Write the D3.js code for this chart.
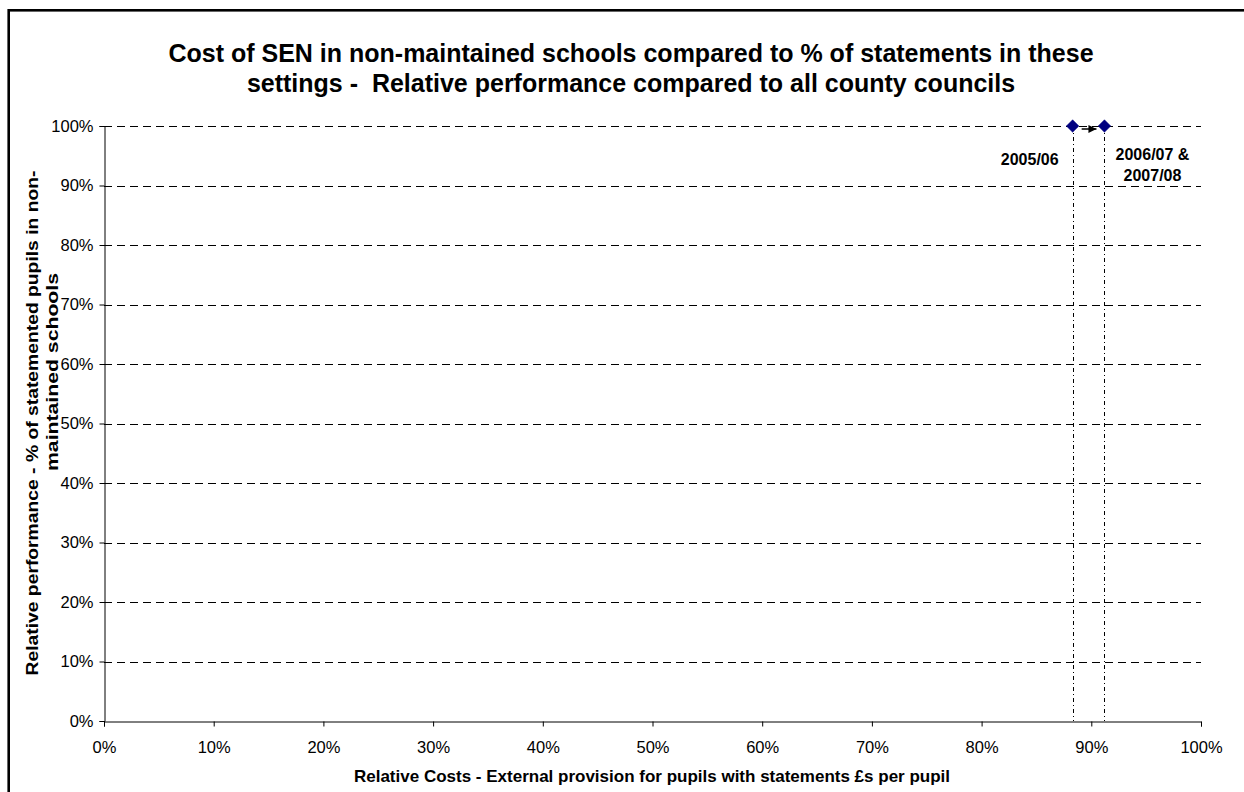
<!DOCTYPE html>
<html>
<head>
<meta charset="utf-8">
<script src="https://cdn.jsdelivr.net/npm/d3@7"></script>
<style>
  html, body { margin: 0; padding: 0; background: #fff; }
  svg text { font-family: Arial, "Liberation Sans", sans-serif; fill: #000; white-space: pre; }
</style>
</head>
<body>
<svg id="chart" width="1244" height="792"></svg>
<script>
// Relative cost (x) vs relative performance (y), by year
const years = ["2005/06", "2006/07 & 2007/08"];
const relCost = [0.883, 0.912];
const relPerf = [1.0, 1.0];
const tickValues = [0, 0.1, 0.2, 0.3, 0.4, 0.5, 0.6, 0.7, 0.8, 0.9, 1.0];
const titleLines = [
  "Cost of SEN in non-maintained schools compared to % of statements in these",
  "settings -  Relative performance compared to all county councils"
];
const xTitle = "Relative Costs - External provision for pupils with statements £s per pupil";
const yTitleLines = [
  "Relative performance - % of statemented pupils in non-",
  "maintained schools"
];
const pointLabels = [["2005/06"], ["2006/07 &", "2007/08"]];

const svg = d3.select("#chart");
const W = 1244, H = 792;
const margin = { left: 104, right: W - 1201, top: 126, bottom: H - 721 };

// outer chart frame
svg.append("rect")
  .attr("x", 8.7).attr("y", 10.3)
  .attr("width", 1300).attr("height", 820)
  .attr("fill", "none").attr("stroke", "#000").attr("stroke-width", 2.6);

const x = d3.scaleLinear().domain([0, 1]).range([margin.left, W - margin.right]);
const y = d3.scaleLinear().domain([0, 1]).range([H - margin.bottom, margin.top]);
const pct = d3.format(".0%");

// horizontal gridlines
svg.append("g")
  .selectAll("line")
  .data(tickValues.filter(d => d > 0))
  .join("line")
  .attr("x1", x(0)).attr("x2", x(1))
  .attr("y1", d => Math.round(y(d)) + 0.5).attr("y2", d => Math.round(y(d)) + 0.5)
  .attr("stroke", "#000").attr("stroke-width", 1)
  .attr("stroke-dasharray", "8,5");

// axes
const xAxis = svg.append("g")
  .attr("transform", `translate(0,${Math.round(y(0)) + 0.5})`)
  .call(d3.axisBottom(x).tickValues(tickValues).tickFormat(pct).tickSize(5).tickPadding(15));
const yAxis = svg.append("g")
  .attr("transform", `translate(${Math.round(x(0)) + 0.5},0)`)
  .call(d3.axisLeft(y).tickValues(tickValues).tickFormat(pct).tickSize(5).tickPadding(6));
[xAxis, yAxis].forEach(g => {
  g.select(".domain").attr("stroke", "#000");
  g.selectAll(".tick line").attr("stroke", "#000");
  g.selectAll(".tick text").attr("font-size", 16.5).attr("fill", "#000")
    .attr("font-family", "Arial, 'Liberation Sans', sans-serif");
});

// drop lines from each point to the x axis
svg.append("g")
  .selectAll("line")
  .data(relCost)
  .join("line")
  .attr("x1", d => Math.round(x(d)) + 0.5).attr("x2", d => Math.round(x(d)) + 0.5)
  .attr("y1", (d, i) => y(relPerf[i])).attr("y2", y(0))
  .attr("stroke", "#000").attr("stroke-width", 1)
  .attr("stroke-dasharray", "4,3,1,3");

// arrow between the years
svg.append("defs").append("marker")
  .attr("id", "arrowhead")
  .attr("viewBox", "0 0 10 10").attr("refX", 10).attr("refY", 5)
  .attr("markerWidth", 10).attr("markerHeight", 8)
  .attr("markerUnits", "userSpaceOnUse")
  .attr("orient", "auto")
  .append("path").attr("d", "M0,0L10,5L0,10Z").attr("fill", "#000");
svg.append("line")
  .attr("x1", x(relCost[0]) + 9).attr("x2", x(relCost[1]) - 8)
  .attr("y1", y(relPerf[0]) + 3).attr("y2", y(relPerf[1]) + 3)
  .attr("stroke", "#000").attr("stroke-width", 1.5)
  .attr("marker-end", "url(#arrowhead)");

// diamond markers
svg.append("g")
  .selectAll("path")
  .data(relCost)
  .join("path")
  .attr("transform", (d, i) => `translate(${x(d)},${y(relPerf[i])})`)
  .attr("d", d3.symbol(d3.symbolDiamond2, 100))
  .attr("fill", "#000080").attr("stroke", "#000080").attr("stroke-width", 0.5);

// point labels
const lbl = svg.append("g").attr("font-weight", "bold").attr("font-size", 16);
lbl.append("text")
  .attr("x", x(relCost[0]) - 14).attr("y", y(relPerf[0]) + 39)
  .attr("text-anchor", "end")
  .text(pointLabels[0][0]);
pointLabels[1].forEach((t, k) => {
  lbl.append("text")
    .attr("x", x(relCost[1]) + 48).attr("y", y(relPerf[1]) + 34 + k * 21)
    .attr("text-anchor", "middle")
    .text(t);
});

// chart title
svg.append("g")
  .selectAll("text")
  .data(titleLines)
  .join("text")
  .attr("x", 631).attr("y", (d, i) => 62 + i * 30)
  .attr("text-anchor", "middle")
  .attr("font-size", 25).attr("font-weight", "bold")
  .text(d => d);

// x axis title
svg.append("text")
  .attr("x", 652).attr("y", 782)
  .attr("text-anchor", "middle")
  .attr("font-size", 17).attr("font-weight", "bold")
  .text(xTitle);

// y axis title (two rotated lines)
const yTitleCenters = [423, 372];
const yTitleLengths = [505, 198];
svg.append("g")
  .selectAll("text")
  .data(yTitleLines)
  .join("text")
  .attr("transform", (d, i) => `translate(${38 + i * 20},${yTitleCenters[i]}) rotate(-90)`)
  .attr("text-anchor", "middle")
  .attr("font-size", 17).attr("font-weight", "bold")
  .attr("textLength", (d, i) => yTitleLengths[i])
  .attr("lengthAdjust", "spacingAndGlyphs")
  .text(d => d);
</script>
</body>
</html>
